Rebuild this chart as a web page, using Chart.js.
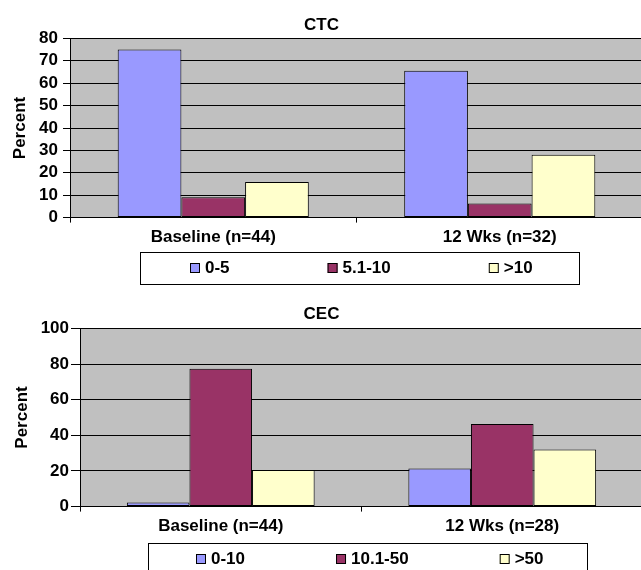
<!DOCTYPE html>
<html>
<head>
<meta charset="utf-8">
<script src="https://cdn.jsdelivr.net/npm/chart.js@4/dist/chart.umd.min.js"></script>
<style>
  html, body { margin: 0; padding: 0; background: #fff; overflow: hidden; }
  canvas { display: block; }
</style>
</head>
<body>
<canvas id="ctc" width="643" height="285"></canvas>
<canvas id="cec" width="643" height="285"></canvas>
<script>
// CTC panel
const ctcCategories = ['Baseline (n=44)', '12 Wks (n=32)'];
const ctcSeries = ['0-5', '5.1-10', '>10'];
const ctcLow = [75, 65.6];
const ctcMid = [9.1, 6.3];
const ctcHigh = [15.9, 28.1];
const ctcMax = 80;
const ctcStep = 10;

// CEC panel
const cecCategories = ['Baseline (n=44)', '12 Wks (n=28)'];
const cecSeries = ['0-10', '10.1-50', '>50'];
const cecLow = [2.3, 21.4];
const cecMid = [77.3, 46.4];
const cecHigh = [20.5, 32.1];
const cecMax = 100;
const cecStep = 20;

const colors = ['#9999FF', '#993366', '#FFFFCC'];
const FONT = '"Liberation Sans", Arial, sans-serif';

// grey plot background
const plotBg = {
  id: 'plotBg',
  beforeDraw(chart) {
    const { ctx, chartArea: a } = chart;
    ctx.save();
    ctx.fillStyle = '#C0C0C0';
    ctx.fillRect(a.left, a.top, a.right - a.left, a.bottom - a.top);
    ctx.restore();
  }
};

// boxed legend, Excel style
const boxLegend = {
  id: 'boxLegend',
  afterDraw(chart, args, opts) {
    const { ctx, chartArea: a } = chart;
    const sets = chart.data.datasets;
    ctx.save();
    ctx.font = 'bold 17px ' + FONT;
    const widths = sets.map(d => 15 + ctx.measureText(d.label).width);
    const total = widths.reduce((s, w) => s + w, 0) + opts.gap * (sets.length - 1);
    const cx = (a.left + a.right) / 2 + opts.shift;
    ctx.strokeStyle = '#000';
    ctx.lineWidth = 1;
    ctx.strokeRect(Math.round(cx - 219.5) + 0.5, opts.top + 0.5, 439, 32);
    const cy = opts.top + 16;
    let x = Math.round(cx + 2 - total / 2);
    sets.forEach((d, i) => {
      ctx.fillStyle = d.backgroundColor;
      ctx.fillRect(x, cy - 5, 10, 10);
      ctx.strokeRect(x + 0.5, cy - 4.5, 9, 9);
      ctx.fillStyle = '#000';
      ctx.textBaseline = 'middle';
      ctx.textAlign = 'left';
      ctx.fillText(d.label, x + 15, cy);
      x += widths[i] + opts.gap;
    });
    ctx.restore();
  }
};

function makeChart(id, cfg) {
  const datasets = cfg.series.map((name, i) => ({
    label: name,
    data: cfg.values[i],
    backgroundColor: colors[i],
    borderColor: '#000',
    borderWidth: 1,
    borderSkipped: false,
    categoryPercentage: 0.667,
    barPercentage: 1.0
  }));
  return new Chart(document.getElementById(id), {
    type: 'bar',
    data: { labels: cfg.categories, datasets },
    plugins: [plotBg, boxLegend],
    options: {
      responsive: false,
      animation: false,
      layout: { padding: { left: 0, right: 0, top: 0, bottom: cfg.padBottom } },
      plugins: {
        legend: { display: false },
        tooltip: { enabled: false },
        title: {
          display: true,
          text: cfg.title,
          color: '#000',
          font: { family: FONT, size: 17, weight: 'bold' },
          padding: cfg.titlePad
        },
        boxLegend: { top: cfg.legendTop, gap: cfg.gap, shift: cfg.legendShift }
      },
      scales: {
        x: {
          grid: { offset: true, drawOnChartArea: false, color: '#000', tickLength: 5 },
          border: { color: '#000' },
          ticks: { color: '#000', padding: 5, font: { family: FONT, size: 17, weight: 'bold' } }
        },
        y: {
          min: 0,
          max: cfg.max,
          afterFit: s => { s.width = cfg.axisWidth; },
          grid: { color: '#000', tickLength: cfg.tickLen },
          border: { color: '#000' },
          ticks: {
            stepSize: cfg.step,
            autoSkip: false,
            color: '#000',
            padding: cfg.tickPad,
            font: { family: FONT, size: 17, weight: 'bold' }
          },
          title: {
            display: true,
            text: 'Percent',
            color: '#000',
            font: { family: FONT, size: 17, weight: 'bold' },
            padding: { top: cfg.yTitlePad, bottom: 0 }
          }
        }
      }
    }
  });
}

makeChart('ctc', {
  title: 'CTC',
  categories: ctcCategories,
  series: ctcSeries,
  values: [ctcLow, ctcMid, ctcHigh],
  max: ctcMax,
  step: ctcStep,
  titlePad: { top: 15, bottom: 3 },
  padBottom: 32,
  axisWidth: 70,
  tickLen: 7,
  tickPad: 5,
  yTitlePad: 10,
  legendTop: 252,
  legendShift: 3,
  gap: 98
});

makeChart('cec', {
  title: 'CEC',
  categories: cecCategories,
  series: cecSeries,
  values: [cecLow, cecMid, cecHigh],
  max: cecMax,
  step: cecStep,
  titlePad: { top: 19, bottom: 4 },
  padBottom: 28,
  axisWidth: 80,
  tickLen: 9,
  tickPad: 2,
  yTitlePad: 12,
  legendTop: 258,
  legendShift: 6,
  gap: 91
});
</script>
</body>
</html>
